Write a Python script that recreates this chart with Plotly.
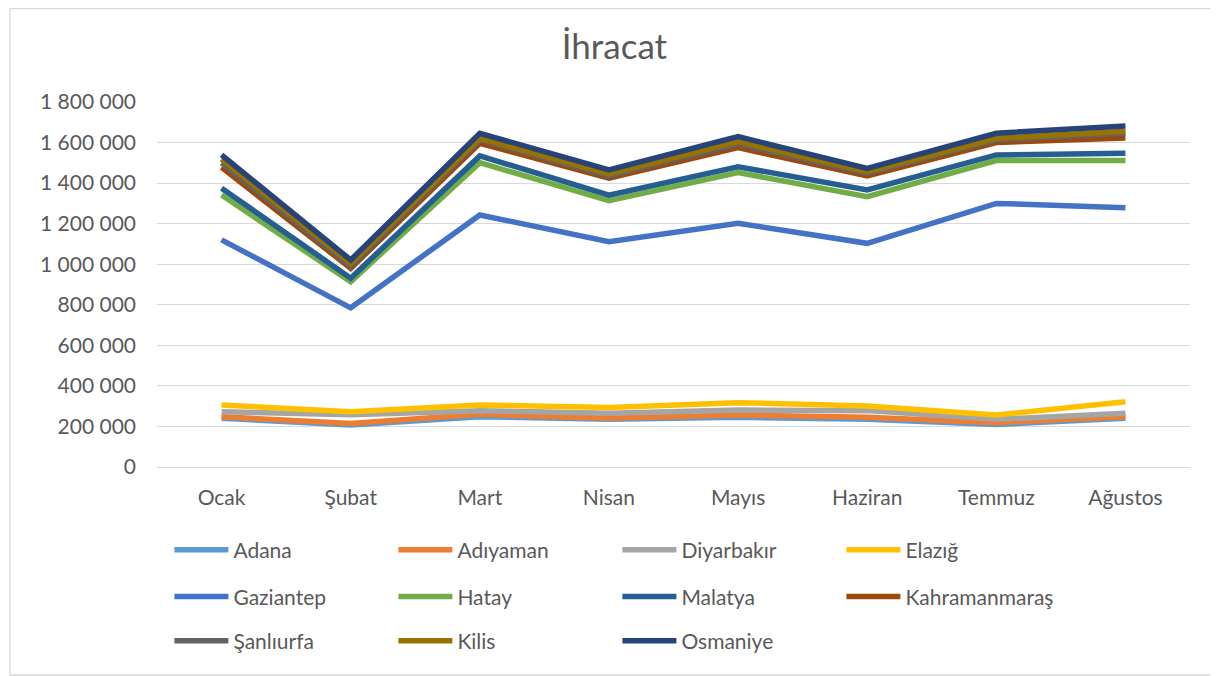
import plotly.graph_objects as go

months = ["Ocak", "Şubat", "Mart", "Nisan", "Mayıs", "Haziran", "Temmuz", "Ağustos"]

adana = [240000, 207000, 248000, 235000, 245000, 235000, 210000, 240000]
adiyaman = [248000, 215000, 260000, 240000, 256000, 245000, 218000, 248000]
diyarbakir = [273000, 258000, 278000, 265000, 281000, 278000, 235000, 265000]
elazig = [306000, 273000, 306000, 294000, 317000, 301000, 256000, 322000]
gaziantep = [1120000, 785000, 1243000, 1111000, 1202000, 1103000, 1300000, 1279000]
hatay = [1341000, 914000, 1501000, 1313000, 1452000, 1333000, 1511000, 1511000]
malatya = [1375000, 931000, 1534000, 1341000, 1481000, 1366000, 1539000, 1547000]
kahramanmaras = [1478000, 980000, 1596000, 1424000, 1575000, 1435000, 1600000, 1623000]
sanliurfa = [1500000, 991000, 1613000, 1435000, 1592000, 1448000, 1613000, 1646000]
kilis = [1518000, 1005000, 1621000, 1445000, 1605000, 1457000, 1621000, 1656000]
osmaniye = [1539000, 1021000, 1646000, 1465000, 1629000, 1473000, 1646000, 1682000]

series_names = ["Adana", "Adıyaman", "Diyarbakır", "Elazığ", "Gaziantep", "Hatay",
                "Malatya", "Kahramanmaraş", "Şanlıurfa", "Kilis", "Osmaniye"]
series_values = [adana, adiyaman, diyarbakir, elazig, gaziantep, hatay,
                 malatya, kahramanmaras, sanliurfa, kilis, osmaniye]
series_colors = ["#5B9BD5", "#ED7D31", "#A5A5A5", "#FFC000", "#4472C4", "#70AD47",
                 "#255E91", "#9E480E", "#636363", "#997300", "#264478"]
legend_ids = ["legend", "legend", "legend", "legend",
              "legend2", "legend2", "legend2", "legend2",
              "legend3", "legend3", "legend3"]

FONT = "Lato"
TXT = "#595959"

fig = go.Figure()
for name, vals, col, lg in zip(series_names, series_values, series_colors, legend_ids):
    fig.add_trace(go.Scatter(
        x=months, y=vals, name=name, mode="lines",
        line=dict(color=col, width=5.5),
        legend=lg,
    ))

def leg(ypos):
    return dict(
        orientation="h", x=0.012, xanchor="left", y=ypos, yanchor="middle",
        entrywidth=155, entrywidthmode="pixels", itemwidth=54,
        font=dict(family=FONT, size=21, color=TXT),
        bgcolor="rgba(0,0,0,0)", traceorder="normal",
        itemclick=False, itemdoubleclick=False,
    )

fig.update_layout(
    width=1210, height=668,
    margin=dict(l=149, r=28, t=94, b=209),
    paper_bgcolor="white", plot_bgcolor="white",
    separators=". ",
    title=dict(text="İhracat", x=0.5012, xanchor="center", y=0.9416, yanchor="middle",
               font=dict(family=FONT, size=35, color=TXT)),
    xaxis=dict(
        type="category", range=[-0.5, 7.5], showgrid=False, showline=False,
        zeroline=False, ticks="", ticklabelstandoff=16,
        tickfont=dict(family=FONT, size=21, color=TXT),
    ),
    yaxis=dict(
        range=[0, 1800000], tickvals=[0, 200000, 400000, 600000, 800000, 1000000,
                                      1200000, 1400000, 1600000, 1800000],
        tickformat=",d", showgrid=True, gridcolor="#D9D9D9", gridwidth=1.3,
        zeroline=True, zerolinecolor="#D9D9D9", zerolinewidth=1.3,
        showline=False, ticks="", ticklabelstandoff=20,
        tickfont=dict(family=FONT, size=21, color=TXT),
    ),
    legend=leg(-0.2274),
    legend2=leg(-0.356),
    legend3=leg(-0.4767),
    shapes=[dict(type="rect", xref="paper", yref="paper",
                 x0=-0.1423, x1=1.0242, y0=-0.5699, y1=1.2562,
                 line=dict(color="#D9D9D9", width=1.3), fillcolor="rgba(0,0,0,0)",
                 layer="below")],
)

fig.write_html("out.html")
